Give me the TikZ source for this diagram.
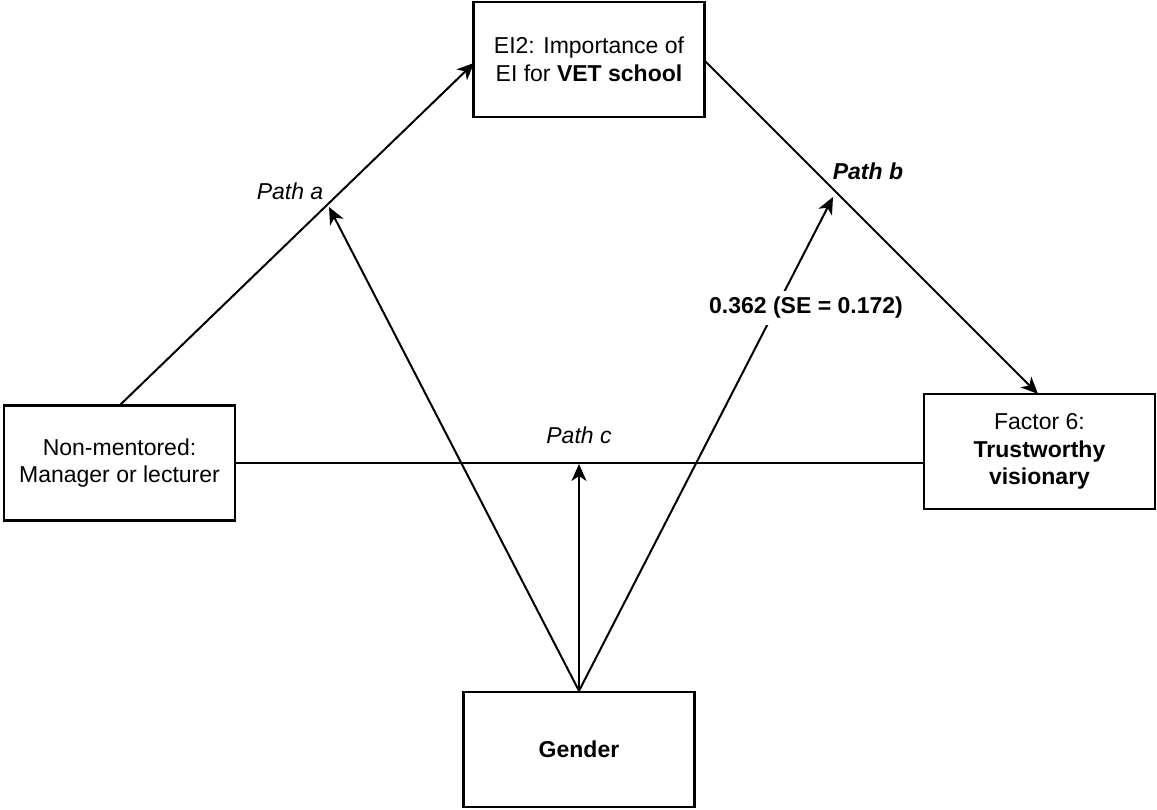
\documentclass[tikz,border=0pt]{standalone}
\usepackage{fontspec}
\setmainfont{Liberation Sans}
\usetikzlibrary{arrows.meta,calc}
\begin{document}
\begin{tikzpicture}[x=0.5pt,y=-0.5pt,
  box/.style={draw=black,line width=1.1pt,minimum width=115.5pt,minimum height=57.5pt,inner sep=0pt,align=center,font=\fontsize{11.5}{13.8}\selectfont},
  conn/.style={line width=1pt},
  arr/.style={line width=1pt,-{Stealth[length=8.5pt,width=7.5pt,inset=2.5pt]}},
  lab/.style={font=\fontsize{11.5}{13.8}\selectfont,inner sep=1pt}]
\useasboundingbox (0,0) rectangle (1157,809);
\node[box] (ei) at (589,59.5) {EI2: Importance of\\EI for \textbf{VET school}};
\node[box] (nm) at (119.5,463) {Non-mentored:\\Manager or lecturer};
\node[box] (fac) at (1039.5,451.5) {Factor 6:\\\textbf{Trustworthy}\\\textbf{visionary}};
\node[box] (gen) at (579,749.5) {\textbf{Gender}};
\coordinate (astart) at (120,405);
\coordinate (aend) at (474,63);
\coordinate (bstart) at (704,60);
\coordinate (bend) at (1038,394);
\draw[arr] (astart) -- (aend);
\draw[arr] (bstart) -- (bend);
\draw[conn] (nm.east) -- (nm.east -| fac.west);
\coordinate (ta) at (329,207);
\coordinate (tb) at (833,197);
\coordinate (tc) at (579,464);
\draw[arr] (gen.north) -- (ta);
\draw[arr] (gen.north) -- (tc);
\draw[arr] (gen.north) -- (tb);
\node[lab] (la) at (290,191) {\itshape Path a};
\node[lab] (lb) at (868,171) {\bfseries\itshape Path b};
\node[lab] (lc) at (579,435) {\itshape Path c};
\node[lab,fill=white,inner sep=3pt] (lv) at (806,308) {\textbf{0.362 (SE = 0.172)}};
\end{tikzpicture}
\end{document}
